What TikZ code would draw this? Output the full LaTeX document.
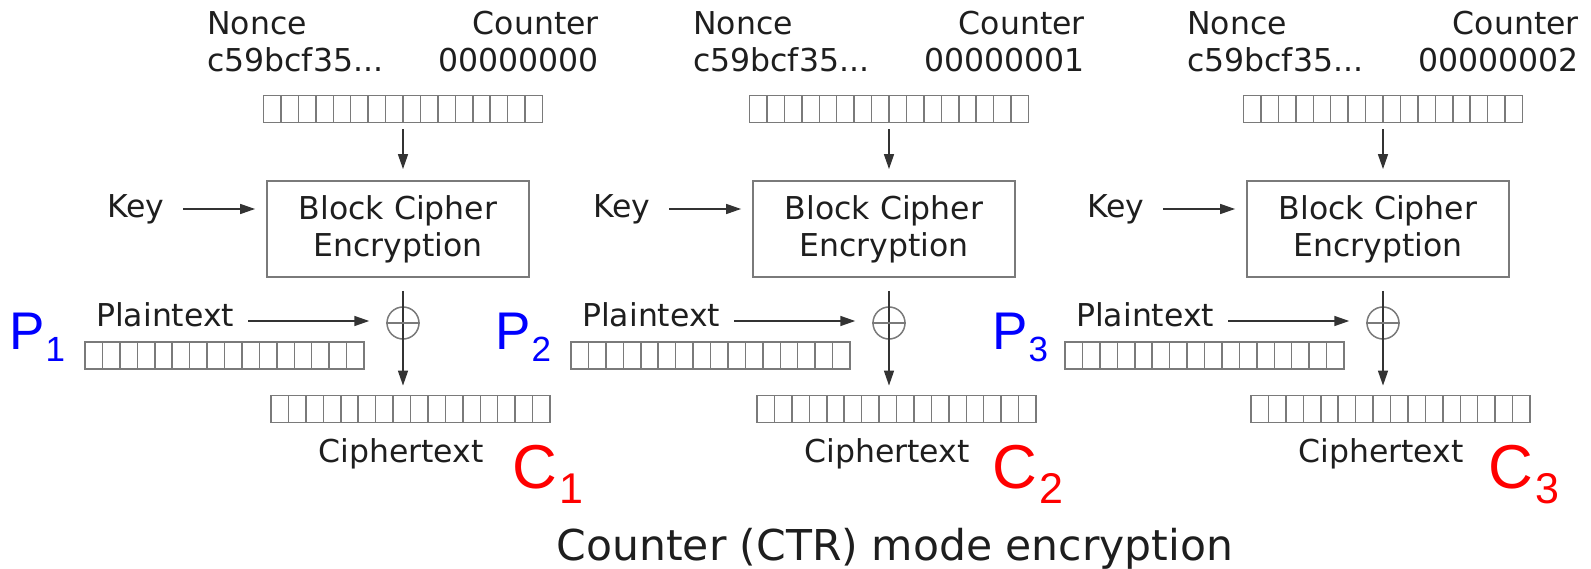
\documentclass[tikz,border=0pt]{standalone}
\usepackage{fontspec}
\setmainfont{DejaVu Sans}
\newfontfamily\arialf{Liberation Sans}
\usetikzlibrary{arrows.meta}
\definecolor{txt}{HTML}{1E1E1E}
\definecolor{ln}{HTML}{333333}
\definecolor{bx}{HTML}{7A7A7A}
\definecolor{pblue}{HTML}{0000FF}
\definecolor{cred}{HTML}{FF0000}
\tikzset{
  lbl/.style={inner sep=0pt, text=txt, font=\fontsize{31.5}{36}\selectfont},
  bar/.style={draw=bx, line width=1.8pt, minimum width=279pt, minimum height=27pt, inner sep=0pt,
    path picture={\foreach \k in {1,...,15}{\draw[bx, line width=1.5pt] ([xshift=\k*17.4375pt]path picture bounding box.north west) -- ([xshift=\k*17.4375pt]path picture bounding box.south west);}}},
  cipherbox/.style={draw=bx, line width=1.8pt, minimum width=262pt, minimum height=96pt, inner sep=0pt},
  xorc/.style={circle, draw=bx, line width=1.5pt, minimum size=32pt, inner sep=0pt},
  arr/.style={draw=ln, line width=1.5pt, -{Triangle[length=15pt,width=10pt]}},
  plbl/.style={inner sep=0pt, anchor=base west, text=pblue, font=\arialf\fontsize{53}{60}\selectfont},
  clbl/.style={inner sep=0pt, anchor=base west, text=cred, font=\arialf\fontsize{62}{70}\selectfont},
}
\begin{document}
\begin{tikzpicture}[x=1pt,y=-1pt]
\useasboundingbox (0,0) rectangle (1591,569);
\foreach \i/\o/\cnt/\px/\cx in {1/0/00000000/9/512, 2/486/00000001/495/992, 3/980/00000002/992/1488}{
  % top labels
  \node[lbl, anchor=base west] (nonce\i) at (207+\o,35) {Nonce};
  \node[lbl, anchor=base west] (nv\i) at (207+\o,72) {c59bcf35...};
  \node[lbl, anchor=base east] (counter\i) at (599+\o,35) {Counter};
  \node[lbl, anchor=base east] (cv\i) at (599+\o,72) {\cnt};
  % bars
  \node[bar] (top\i) at (403+\o,109) {};
  \node[bar] (pt\i) at (224.5+\o,355.5) {};
  \node[bar] (ct\i) at (410.5+\o,409) {};
  % cipher box
  \node[cipherbox] (box\i) at (398+\o,229) {};
  \node[lbl, anchor=base] (bc\i) at (398+\o,220) {Block Cipher};
  \node[lbl, anchor=base] (enc\i) at (398+\o,257) {Encryption};
  % key
  \node[lbl, anchor=base west] (key\i) at (107+\o,218) {Key};
  \coordinate (ks\i) at (183+\o,209);
  % plaintext
  \node[lbl, anchor=base west] (ptl\i) at (96+\o,327) {Plaintext};
  \coordinate (ps\i) at (248+\o,321);
  % xor
  \node[xorc] (xor\i) at (403+\o,323) {};
  % ciphertext
  \node[lbl, anchor=base] (ctl\i) at (401+\o,462) {Ciphertext};
  % P and C labels
  \node[plbl] (P\i) at (\px,350) {P\kern1pt\raisebox{-12pt}{\fontsize{35}{40}\selectfont\i}};
  \node[clbl] (C\i) at (\cx,488) {C\kern3pt\raisebox{-15pt}{\fontsize{43}{48}\selectfont\i}};
  % connectors
  \draw[arr] ([yshift=-6pt]top\i.south) -- ([yshift=11pt]top\i.south |- box\i.north);
  \draw[arr] (ks\i) -- ([xshift=-11pt]ks\i -| box\i.west);
  \draw[arr] (ps\i) -- ([xshift=-17pt]ps\i -| xor\i.west);
  \draw[arr] ([yshift=-13pt]box\i.south -| xor\i.center) -- ([yshift=9pt]ct\i.north -| xor\i.center);
  \draw[bx, line width=1.5pt] (xor\i.west) -- (xor\i.east);
}
\node[inner sep=0pt, anchor=base, text=txt, font=\fontsize{42.5}{48}\selectfont] (title) at (895,560) {Counter (CTR) mode encryption};
\end{tikzpicture}
\end{document}
